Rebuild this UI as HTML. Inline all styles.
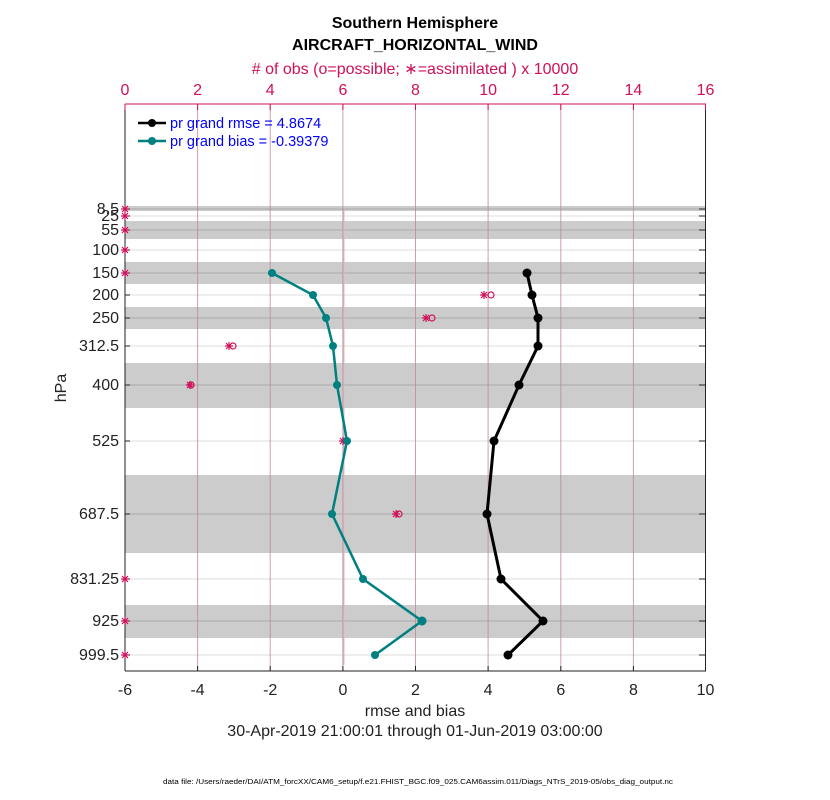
<!DOCTYPE html>
<html><head><meta charset="utf-8"><style>body{margin:0;background:#fff}svg{display:block;font-family:"Liberation Sans",Arial,sans-serif}</style></head>
<body>
<svg width="830" height="800" viewBox="0 0 830 800" xmlns="http://www.w3.org/2000/svg">
<rect width="830" height="800" fill="#fff"/>
<g fill="#cccccc">
<rect x="125" y="206" width="581" height="5"/>
<rect x="125" y="221" width="581" height="18"/>
<rect x="125" y="262" width="581" height="22"/>
<rect x="125" y="307" width="581" height="22"/>
<rect x="125" y="363" width="581" height="45"/>
<rect x="125" y="475" width="581" height="78"/>
<rect x="125" y="605" width="581" height="33"/>
</g>
<g stroke="#dcdcdc" stroke-width="1">
<line x1="125" x2="706" y1="216" y2="216"/>
<line x1="125" x2="706" y1="250" y2="250"/>
<line x1="125" x2="706" y1="295" y2="295"/>
<line x1="125" x2="706" y1="346" y2="346"/>
<line x1="125" x2="706" y1="441" y2="441"/>
<line x1="125" x2="706" y1="579" y2="579"/>
<line x1="125" x2="706" y1="655" y2="655"/>
</g>
<g stroke="#aaaaaa" stroke-width="1">
<line x1="125" x2="706" y1="209" y2="209"/>
<line x1="125" x2="706" y1="230" y2="230"/>
<line x1="125" x2="706" y1="273" y2="273"/>
<line x1="125" x2="706" y1="318" y2="318"/>
<line x1="125" x2="706" y1="385" y2="385"/>
<line x1="125" x2="706" y1="514" y2="514"/>
<line x1="125" x2="706" y1="621" y2="621"/>
</g>
<line x1="343.5" x2="343.5" y1="210" y2="665" stroke="#d8c0c8" stroke-width="2"/>
<g stroke="#c08898" stroke-width="1" opacity="0.8">
<line x1="197.6" x2="197.6" y1="104" y2="671"/>
<line x1="270.2" x2="270.2" y1="104" y2="671"/>
<line x1="342.9" x2="342.9" y1="104" y2="671"/>
<line x1="415.5" x2="415.5" y1="104" y2="671"/>
<line x1="488.1" x2="488.1" y1="104" y2="671"/>
<line x1="560.8" x2="560.8" y1="104" y2="671"/>
<line x1="633.4" x2="633.4" y1="104" y2="671"/>
</g>
<line x1="125" x2="125" y1="104" y2="671" stroke="#222" stroke-width="1"/>
<line x1="125" x2="706" y1="671" y2="671" stroke="#222" stroke-width="1"/>
<line x1="705.5" x2="705.5" y1="104" y2="671" stroke="#222" stroke-width="1"/>
<line x1="125" x2="706" y1="104" y2="104" stroke="#d0105a" stroke-width="1"/>
<g stroke="#222">
<path d="M125 666v5M197.6 666v5M270.2 666v5M342.9 666v5M415.5 666v5M488.1 666v5M560.8 666v5M633.4 666v5M705.5 666v5"/>
<path d="M125 209h5M125 216h5M125 230h5M125 250h5M125 273h5M125 295h5M125 318h5M125 346h5M125 385h5M125 441h5M125 514h5M125 579h5M125 621h5M125 655h5"/>
<path d="M705 209h-6M705 216h-6M705 230h-6M705 250h-6M705 273h-6M705 295h-6M705 318h-6M705 346h-6M705 385h-6M705 441h-6M705 514h-6M705 579h-6M705 621h-6M705 655h-6"/>
</g>
<path d="M125 104v6M197.6 104v6M270.2 104v6M342.9 104v6M415.5 104v6M488.1 104v6M560.8 104v6M633.4 104v6M705.5 104v6" stroke="#d0105a"/>
<text x="415" y="28" text-anchor="middle" font-size="16" font-weight="bold" fill="#000">Southern Hemisphere</text>
<text x="415" y="50" text-anchor="middle" font-size="16" font-weight="bold" fill="#000">AIRCRAFT_HORIZONTAL_WIND</text>
<text x="415" y="74" text-anchor="middle" font-size="16" fill="#d0105a"># of obs (o=possible; ∗=assimilated ) x 10000</text>
<g font-size="16" fill="#d0105a" text-anchor="middle">
<text x="125" y="95">0</text><text x="197.6" y="95">2</text><text x="270.2" y="95">4</text><text x="342.9" y="95">6</text><text x="415.5" y="95">8</text><text x="488.1" y="95">10</text><text x="560.8" y="95">12</text><text x="633.4" y="95">14</text><text x="705.5" y="95">16</text>
</g>
<g font-size="16" fill="#222" text-anchor="middle">
<text x="125" y="695">-6</text><text x="197.6" y="695">-4</text><text x="270.2" y="695">-2</text><text x="342.9" y="695">0</text><text x="415.5" y="695">2</text><text x="488.1" y="695">4</text><text x="560.8" y="695">6</text><text x="633.4" y="695">8</text><text x="705.5" y="695">10</text>
</g>
<text x="415" y="716" text-anchor="middle" font-size="16" fill="#222">rmse and bias</text>
<text x="415" y="736" text-anchor="middle" font-size="16" fill="#222">30-Apr-2019 21:00:01 through 01-Jun-2019 03:00:00</text>
<text x="418" y="784" text-anchor="middle" font-size="7" textLength="510" lengthAdjust="spacingAndGlyphs" fill="#000">data file: /Users/raeder/DAI/ATM_forcXX/CAM6_setup/f.e21.FHIST_BGC.f09_025.CAM6assim.011/Diags_NTrS_2019-05/obs_diag_output.nc</text>
<g font-size="16" fill="#222" text-anchor="end">
<text x="119" y="214">8.5</text><text x="119" y="221">25</text><text x="119" y="235">55</text><text x="119" y="255">100</text><text x="119" y="278">150</text><text x="119" y="300">200</text><text x="119" y="323">250</text><text x="119" y="351">312.5</text><text x="119" y="390">400</text><text x="119" y="446">525</text><text x="119" y="519">687.5</text><text x="119" y="584">831.25</text><text x="119" y="626">925</text><text x="119" y="660">999.5</text>
</g>
<text transform="translate(66 388) rotate(-90)" text-anchor="middle" font-size="16" fill="#222">hPa</text>
<g stroke="#d0105a" stroke-width="1.2" fill="none">
<path d="M121 209h8M125 205v8M122 206l6 6M122 212l6-6 M121 216h8M125 212v8M122 213l6 6M122 219l6-6 M121 230h8M125 226v8M122 227l6 6M122 233l6-6 M121 250h8M125 246v8M122 247l6 6M122 253l6-6 M121 273h8M125 269v8M122 270l6 6M122 276l6-6 M121 579h8M125 575v8M122 576l6 6M122 582l6-6 M121 621h8M125 617v8M122 618l6 6M122 624l6-6 M121 655h8M125 651v8M122 652l6 6M122 658l6-6"/>
<path d="M480 295h8M484 291v8M481 292l6 6M481 298l6-6 M422 318h8M426 314v8M423 315l6 6M423 321l6-6 M225 346h8M229 342v8M226 343l6 6M226 349l6-6 M186 385h8M190 381v8M187 382l6 6M187 388l6-6 M339 441h8M343 437v8M340 438l6 6M340 444l6-6 M392 514h8M396 510v8M393 511l6 6M393 517l6-6"/>
<circle cx="491" cy="295" r="3"/><circle cx="432" cy="318" r="3"/><circle cx="233" cy="346" r="3"/><circle cx="191" cy="385" r="3"/><circle cx="346" cy="441" r="3"/><circle cx="399" cy="514" r="3"/>
</g>
<polyline points="272,273 313,295 326,318 333,346 337,385 347,441 332,514 363,579 422,621 375,655" fill="none" stroke="#008080" stroke-width="2.5"/>
<g fill="#008080">
<circle cx="272" cy="273" r="4"/><circle cx="313" cy="295" r="4"/><circle cx="326" cy="318" r="4"/><circle cx="333" cy="346" r="4"/><circle cx="337" cy="385" r="4"/><circle cx="347" cy="441" r="4"/><circle cx="332" cy="514" r="4"/><circle cx="363" cy="579" r="4"/><circle cx="422" cy="621" r="4.5"/><circle cx="375" cy="655" r="4"/>
</g>
<polyline points="527,273 532,295 538,318 538,346 519,385 494,441 487,514 501,579 543,621 508,655" fill="none" stroke="#000" stroke-width="3"/>
<g fill="#000">
<circle cx="527" cy="273" r="4.5"/><circle cx="532" cy="295" r="4.5"/><circle cx="538" cy="318" r="4.5"/><circle cx="538" cy="346" r="4.5"/><circle cx="519" cy="385" r="4.5"/><circle cx="494" cy="441" r="4.5"/><circle cx="487" cy="514" r="4.5"/><circle cx="501" cy="579" r="4.5"/><circle cx="543" cy="621" r="4.5"/><circle cx="508" cy="655" r="4.5"/>
</g>
<line x1="138" x2="166" y1="123" y2="123" stroke="#000" stroke-width="2.5"/><circle cx="152" cy="123" r="4" fill="#000"/>
<line x1="138" x2="166" y1="141" y2="141" stroke="#008080" stroke-width="2.5"/><circle cx="152" cy="141" r="4" fill="#008080"/>
<text x="170" y="128" font-size="14.5" fill="#0000ff">pr grand rmse = 4.8674</text>
<text x="170" y="146" font-size="14.5" fill="#0000ff">pr grand bias = -0.39379</text>
</svg>
</body></html>
